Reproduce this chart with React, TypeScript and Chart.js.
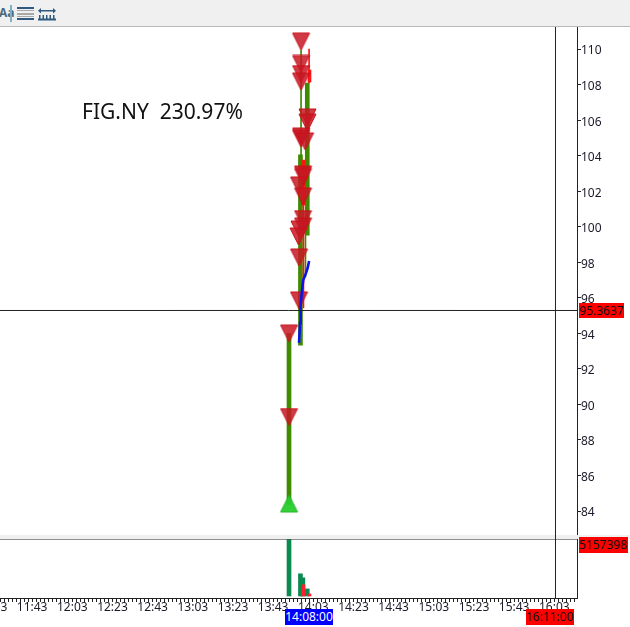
import React, { useEffect, useRef } from "react";
import { Chart, registerables } from "chart.js";

Chart.register(...registerables);

const FONT = '"Noto Sans", sans-serif';
const TEXT = "#1a1a2a";
const GREEN = "#3f8a00";
const RED = "#ff1414";

const xMin = 687;
const xMax = 974.3;
const priceMin = 82.65;
const priceMax = 111.24;
const priceTicks = [84, 86, 88, 90, 92, 94, 96, 98, 100, 102, 104, 106, 108, 110];
const timeTicks = [683, 703, 723, 743, 763, 783, 803, 823, 843, 863, 883, 903, 923, 943, 963];
const timeLabels = ["11:23", "11:43", "12:03", "12:23", "12:43", "13:03", "13:23", "13:43", "14:03", "14:23", "14:43", "15:03", "15:23", "15:43", "16:03"];

const cursorPrice = 95.285;
const cursorMinute = 963.59;
const cursorVolume = 5157398;

const greenBodyTime = [830.9, 836.6, 840.0];
const greenBodyLow = [84.35, 93.34, 99.53];
const greenBodyHigh = [94.0, 104.04, 108.09];
const greenWickTime = [836.9, 839.1];
const greenWickLow = [104.04, 97.17];
const greenWickHigh = [109.94, 99.53];
const redBodyTime = [838.1, 841.1];
const redBodyLow = [101.22, 108.14];
const redBodyHigh = [103.75, 108.82];
const redWickTime = [838.1, 840.9];
const redWickLow = [95.43, 108.09];
const redWickHigh = [101.22, 110.0];

const sellTime = [836.9, 836.9, 836.9, 836.9, 840.1, 840.1, 836.9, 836.9, 838.9, 837.9, 837.9, 835.9, 837.9, 837.9, 837.9, 836.1, 835.6, 835.9, 835.9, 830.9, 830.9];
const sellPrice = [110.42, 109.16, 108.59, 108.17, 106.15, 105.86, 105.08, 104.96, 104.8, 102.94, 102.8, 102.32, 101.7, 100.43, 100.01, 99.84, 99.45, 98.27, 95.85, 93.99, 89.29];
const buyTime = [830.9];
const buyPrice = [84.42];

const trendTime = [835.9, 836.4, 836.7, 837.5, 838.0, 839.4, 840.2, 840.9];
const trendPrice = [93.46, 94.58, 95.59, 96.55, 97.0, 97.4, 97.68, 98.07];

const volGreenTime = [830.9, 836.6, 837.8, 840.0];
const volGreenValue = [5157398, 2026000, 1658000, 645000];
const volRedTime = [838.1, 841.1];
const volRedValue = [1013000, 184000];

function triangle(down: boolean, fill: string, stroke: string) {
  const c = document.createElement("canvas");
  c.width = 19;
  c.height = 19;
  const g = c.getContext("2d")!;
  g.beginPath();
  if (down) {
    g.moveTo(1, 1);
    g.lineTo(18, 1);
    g.lineTo(9.5, 18);
  } else {
    g.moveTo(1, 18);
    g.lineTo(18, 18);
    g.lineTo(9.5, 1);
  }
  g.closePath();
  g.fillStyle = fill;
  g.fill();
  g.strokeStyle = stroke;
  g.lineWidth = 1;
  g.stroke();
  return c;
}

const zip = (xs: number[], ys: number[]) => xs.map((x, i) => ({ x, y: ys[i] }));
const zipRange = (xs: number[], lo: number[], hi: number[]) => xs.map((x, i) => ({ x, y: [lo[i], hi[i]] }));

const floatBar = (data: any[], color: string, thickness: number, order: number) => ({
  type: "bar" as const,
  data,
  backgroundColor: color,
  barThickness: thickness,
  grouped: false,
  order,
});

const crossLine = (data: any[]) => ({
  type: "line" as const,
  data,
  borderColor: "#222",
  borderWidth: 1,
  pointRadius: 0,
  order: 0,
});

const labelBox = (left: number, top: number, width: number, height: number, bg: string, color: string, text: string) => (
  <div
    style={{
      position: "absolute",
      left,
      top,
      width,
      height,
      background: bg,
      color,
      font: `12px ${FONT}`,
      lineHeight: `${height}px`,
      textAlign: "center",
      overflow: "hidden",
      whiteSpace: "nowrap",
    }}
  >
    {text}
  </div>
);

export default function App() {
  const priceRef = useRef<HTMLCanvasElement>(null);
  const volRef = useRef<HTMLCanvasElement>(null);

  useEffect(() => {
    const sellImg = triangle(true, "rgba(200,24,36,0.85)", "#c8101a");
    const buyImg = triangle(false, "rgba(40,205,45,0.95)", "#22b52a");

    const priceChart = new Chart(priceRef.current!, {
      data: {
        datasets: [
          crossLine([{ x: xMin, y: cursorPrice }, { x: xMax, y: cursorPrice }]),
          crossLine([{ x: cursorMinute, y: priceMin }, { x: cursorMinute, y: priceMax }]),
          floatBar(zipRange(greenBodyTime, greenBodyLow, greenBodyHigh), GREEN, 4, 6),
          floatBar(zipRange(greenWickTime, greenWickLow, greenWickHigh), GREEN, 1, 7),
          floatBar(zipRange(redBodyTime, redBodyLow, redBodyHigh), RED, 3, 5),
          floatBar(zipRange(redWickTime, redWickLow, redWickHigh), RED, 1, 5),
          {
            type: "line" as const,
            data: zip(trendTime, trendPrice),
            borderColor: "#0a14e6",
            borderWidth: 2.6,
            pointRadius: 0,
            order: 1,
          },
          {
            type: "line" as const,
            data: zip(sellTime, sellPrice),
            showLine: false,
            pointStyle: sellImg,
            pointRadius: 9,
            clip: false,
            order: 2,
          },
          {
            type: "line" as const,
            data: zip(buyTime, buyPrice),
            showLine: false,
            pointStyle: buyImg,
            pointRadius: 9,
            clip: false,
            order: 2,
          },
        ],
      } as any,
      options: {
        animation: false,
        responsive: false,
        events: [],
        layout: { padding: 0, autoPadding: false },
        plugins: { legend: { display: false }, tooltip: { enabled: false } },
        scales: {
          x: { type: "linear", min: xMin, max: xMax, display: false, offset: false, grid: { offset: false } },
          y: {
            type: "linear",
            position: "right",
            min: priceMin,
            max: priceMax,
            afterBuildTicks: (s: any) => {
              s.ticks = priceTicks.map((value) => ({ value }));
            },
            afterFit: (s: any) => {
              s.width = 53;
              s.paddingTop = 0;
              s.paddingBottom = 0;
            },
            grid: { drawOnChartArea: false, tickLength: 4, color: "#222" },
            border: { display: true, color: "#222" },
            ticks: { color: TEXT, font: { family: FONT, size: 12 }, padding: 0, labelOffset: 2, autoSkip: false },
          },
        },
      } as any,
    });

    const volChart = new Chart(volRef.current!, {
      data: {
        datasets: [
          crossLine([{ x: xMin, y: cursorVolume + 46000 }, { x: xMax, y: cursorVolume + 46000 }]),
          crossLine([{ x: cursorMinute, y: -184192 }, { x: cursorMinute, y: 5203398 }]),
          floatBar(zip(volGreenTime, volGreenValue), "#0a8a4e", 4, 3),
          floatBar(zip(volRedTime, volRedValue), "#ff2030", 3, 2),
        ],
      } as any,
      options: {
        animation: false,
        responsive: false,
        events: [],
        layout: { padding: 0, autoPadding: false },
        plugins: { legend: { display: false }, tooltip: { enabled: false } },
        scales: {
          x: {
            type: "linear",
            min: xMin,
            max: xMax,
            offset: false,
            afterBuildTicks: (s: any) => {
              const out: { value: number }[] = [];
              for (let m = timeTicks[0]; m <= xMax; m += 2) out.push({ value: m });
              s.ticks = out;
            },
            afterFit: (s: any) => {
              s.height = 29;
              s.paddingLeft = 0;
              s.paddingRight = 0;
            },
            grid: { drawOnChartArea: false, tickLength: 4, color: "#222", offset: false },
            border: { display: true, color: "#222" },
            ticks: {
              color: TEXT,
              font: { family: FONT, size: 12 },
              padding: -2,
              autoSkip: false,
              maxRotation: 0,
              minRotation: 0,
              callback: (v: any) => {
                const i = timeTicks.indexOf(Number(v));
                return i >= 0 ? timeLabels[i] : "";
              },
            },
          },
          y: {
            type: "linear",
            position: "right",
            min: -184192,
            max: 5203398,
            afterFit: (s: any) => {
              s.width = 53;
              s.paddingTop = 0;
              s.paddingBottom = 0;
            },
            grid: { display: false },
            border: { display: true, color: "#222" },
            ticks: { display: false },
          },
        },
      } as any,
    });

    return () => {
      priceChart.destroy();
      volChart.destroy();
    };
  }, []);

  return (
    <div style={{ position: "absolute", left: 0, top: 0, width: 630, height: 627, overflow: "hidden", background: "#fff" }}>
      <div style={{ position: "absolute", left: 0, top: 0, width: 630, height: 26, background: "#f0f0f0", borderBottom: "1px solid #b8b8b8" }} />
      <div style={{ position: "absolute", left: -1, top: 4, font: `bold 12px ${FONT}`, color: "#4a6a80" }}>Aa</div>
      <div style={{ position: "absolute", left: 10, top: 5, width: 2, height: 17, background: "#7fb0c8" }} />
      <svg style={{ position: "absolute", left: 16, top: 6 }} width="42" height="15">
        <g fill="#2f5a80">
          <rect x="1" y="1" width="17" height="2" />
          <rect x="1" y="12" width="17" height="2" />
        </g>
        <g fill="#a9a9a9">
          <rect x="1" y="4" width="17" height="1" />
          <rect x="1" y="7" width="17" height="2" />
          <rect x="1" y="10" width="17" height="1" />
        </g>
        <g fill="#2f5a80">
          <rect x="23" y="4" width="16" height="1.5" />
          <path d="M22 4.7 L25 2 L25 7.5 Z M40 4.7 L37 2 L37 7.5 Z" />
          <rect x="22" y="12.5" width="18" height="2" />
          <rect x="23" y="9" width="1.5" height="4" />
          <rect x="26.5" y="9" width="1.5" height="4" />
          <rect x="30" y="9" width="1.5" height="4" />
          <rect x="33.5" y="9" width="1.5" height="4" />
          <rect x="37" y="9" width="1.5" height="4" />
        </g>
      </svg>
      <canvas ref={priceRef} width={630} height={508} style={{ position: "absolute", left: 0, top: 27, display: "block" }} />
      <div style={{ position: "absolute", left: 0, top: 535, width: 630, height: 4, background: "#f0f0f0" }} />
      <div style={{ position: "absolute", left: 555, top: 535, width: 1, height: 4, background: "#222" }} />
      <canvas ref={volRef} width={630} height={88} style={{ position: "absolute", left: 0, top: 539, display: "block" }} />
      <div style={{ position: "absolute", left: 82, top: 96, font: `21px ${FONT}`, lineHeight: "30px", color: "#111", whiteSpace: "pre" }}>
        {"FIG.NY  230.97%"}
      </div>
      {labelBox(579, 303, 45, 15, "#ff0000", "#111", "95.3637")}
      {labelBox(579, 537, 49, 16, "#ff0000", "#111", "5157398.")}
      {labelBox(285, 609, 48, 16, "#0000ff", "#fff", "14:08:00")}
      {labelBox(526, 609, 48, 16, "#ff0000", "#111", "16:11:00")}
    </div>
  );
}
